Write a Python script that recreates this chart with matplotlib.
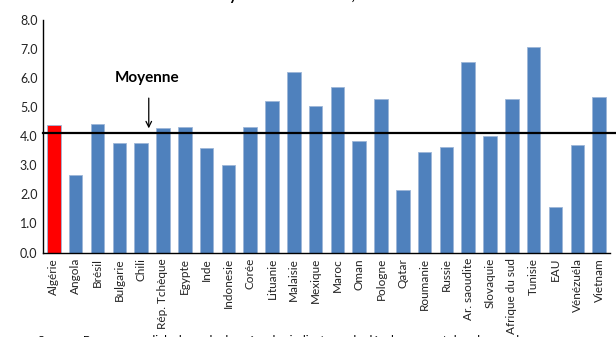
import matplotlib.pyplot as plt

plt.rcParams['font.family'] = ['Lato', 'DejaVu Sans']

# === Data ===
pays = ["Algérie", "Angola", "Brésil", "Bulgarie", "Chili", "Rép. Tchèque",
        "Egypte", "Inde", "Indonesie", "Corée", "Lituanie", "Malaisie",
        "Mexique", "Maroc", "Oman", "Pologne", "Qatar", "Roumanie", "Russie",
        "Ar. saoudite", "Slovaquie", "Afrique du sud", "Tunisie", "EAU",
        "Vénézuéla", "Vietnam"]
valeurs = [4.37, 2.65, 4.40, 3.76, 3.76, 4.28, 4.32, 3.58, 3.01, 4.32, 5.19,
           6.19, 5.03, 5.67, 3.84, 5.29, 2.14, 3.46, 3.61, 6.56, 3.99, 5.29,
           7.05, 1.55, 3.69, 5.34]
moyenne = 4.10
y_ticks = [0, 1, 2, 3, 4, 5, 6, 7, 8]

couleurs = ['#FF0000' if p == "Algérie" else '#4F81BD' for p in pays]

fig = plt.figure(figsize=(6.16, 3.37), dpi=100)
ax = fig.add_axes([43 / 616, 0.2507, 567 / 616, 0.691])

x = range(len(pays))
ax.bar(x, valeurs, width=0.62, color=couleurs, edgecolor='#9DB6D8',
       linewidth=0.6, zorder=2)
ax.set_xlim(-0.5, len(pays) - 0.5)
ax.set_ylim(0, 8)
ax.set_yticks(y_ticks)
ax.set_yticklabels([f"{v:.1f}" for v in y_ticks], fontsize=9, color='#222222')
ax.set_xticks(list(x))
ax.set_xticklabels(pays, rotation=90, fontsize=8.5, color='#222222')
ax.tick_params(axis='both', length=0, pad=4)

for side in ['top', 'right']:
    ax.spines[side].set_visible(False)
ax.spines['left'].set_linewidth(1)
ax.spines['bottom'].set_linewidth(1)

# mean line runs past the right edge of the plot
ax.axhline(moyenne, xmin=0, xmax=1.02, color='black', linewidth=1.6,
           clip_on=False, zorder=3)

ax.annotate("", xy=(4.35, 4.17), xytext=(4.35, 5.4),
            arrowprops=dict(arrowstyle='->', color='black', lw=0.9))
ax.text(4.26, 6.0, "Moyenne", ha='center', va='center', fontsize=11,
        fontweight='bold')

# title and source, both cut by the frame in the reference
fig.text(0.485, 1, "Moyenne 2000-2012, en %", ha='center',
         va='baseline', fontsize=11, fontweight='bold')
fig.text(38 / 616, 2.5 / 337, "Source : Banque mondiale, base de données des indicateurs du développement dans le monde",
         ha='left', va='top', fontsize=8.5)

fig.savefig("out.png", dpi=100)
